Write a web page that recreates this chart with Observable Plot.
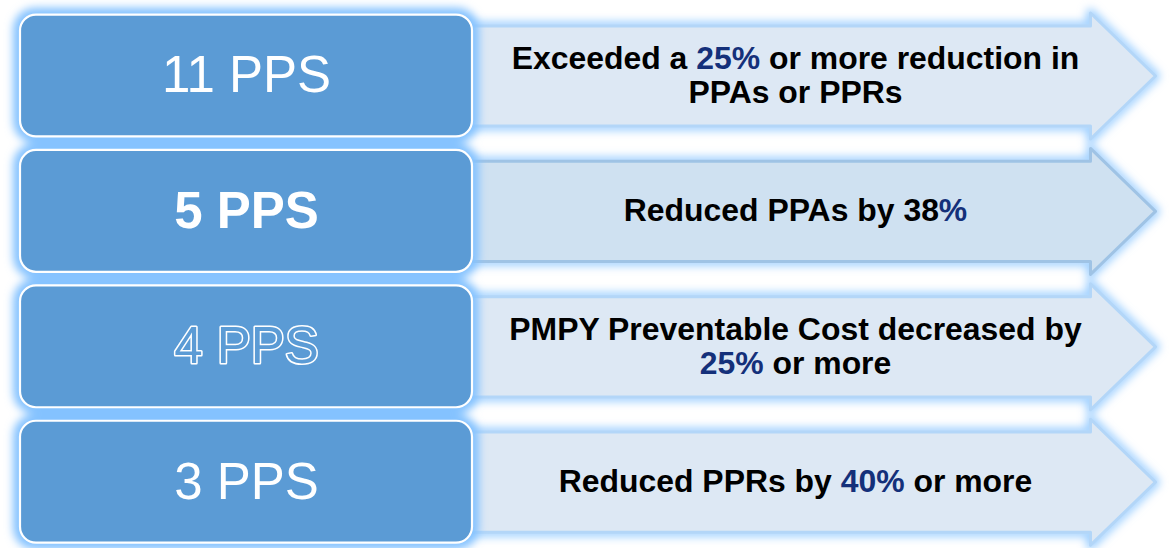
<!DOCTYPE html>
<html>
<head>
<meta charset="utf-8">
<script src="https://cdn.jsdelivr.net/npm/d3@7"></script>
<script src="https://cdn.jsdelivr.net/npm/@observablehq/plot@0.6"></script>
<style>
  html, body { margin: 0; padding: 0; background: #ffffff; }
  #chart svg { display: block; }
</style>
</head>
<body>
<div id="chart"></div>
<script>
// ---- data ----
const counts = [11, 5, 4, 3];
const unitLabel = "PPS";
const descriptions = [
  "Exceeded a 25% or more reduction in\nPPAs or PPRs",
  "Reduced PPAs by 38%",
  "PMPY Preventable Cost decreased by\n25% or more",
  "Reduced PPRs by 40% or more"
];
const highlights = ["25%", "%", "25%", "40%"];

// ---- styles (kept apart from data) ----
const labelStyles = ["regular", "bold", "outline", "regular"];
const arrowFills = ["#dde8f4", "#cfe1f1", "#dde8f4", "#dde8f4"];
const arrowStrokes = ["#b3d6f8", "#9fc3e5", "#b3d6f8", "#b3d6f8"];
const boxFill = "#5b9bd5";
const glowColor = "#84c2ff";
const arrowGlow = "#8ec8ff";
const navy = "#14307a";
const font = "'Liberation Sans', Arial, sans-serif";

// ---- layout ----
const W = 1170, H = 548;
const rowTop = 75.5, rowStep = 135.4;
const boxX1 = 20, boxX2 = 472, boxHalf = 0.45;
const shaftX1 = 460, headX = 1090, tipX = 1155;
const shaftHalf = 0.37, headHalf = 0.465;
const descX = 795, labelX = (boxX1 + boxX2) / 2;
const descStretch = 1.03;

const rows = counts.map((c, i) => ({
  i,
  label: `${c} ${unitLabel}`,
  desc: descriptions[i],
  hl: highlights[i],
  style: labelStyles[i]
}));

const shape = [
  [shaftX1, -shaftHalf], [headX, -shaftHalf], [headX, -headHalf], [tipX, 0],
  [headX, headHalf], [headX, shaftHalf], [shaftX1, shaftHalf]
];
const arrowPts = rows.flatMap(r => shape.map(([x, dy]) => ({row: r.i, x, y: r.i + dy})));

const plot = Plot.plot({
  width: W,
  height: H,
  margin: 0,
  x: {domain: [0, W], range: [0, W], axis: null},
  y: {domain: [-rowTop / rowStep, (H - rowTop) / rowStep], range: [0, H], axis: null},
  color: {type: "identity"},
  style: {background: "transparent", overflow: "visible"},
  marks: [
    // arrow glow
    Plot.line(arrowPts, {
      x: "x", y: "y", z: "row", curve: "linear-closed",
      fill: "none", stroke: arrowGlow, strokeWidth: 9, strokeOpacity: 0.85
    }),
    // arrows
    Plot.line(arrowPts, {
      x: "x", y: "y", z: "row", curve: "linear-closed",
      fill: d => arrowFills[d.row], stroke: d => arrowStrokes[d.row], strokeWidth: 3
    }),
    // box glow
    Plot.rect(rows, {
      x1: () => boxX1 - 7, x2: () => boxX2 + 7,
      y1: d => d.i - boxHalf - 0.05, y2: d => d.i + boxHalf + 0.05,
      fill: glowColor, rx: 22
    }),
    // boxes
    Plot.rect(rows, {
      x1: () => boxX1, x2: () => boxX2,
      y1: d => d.i - boxHalf, y2: d => d.i + boxHalf,
      fill: boxFill, stroke: "#ffffff", strokeWidth: 2.2, rx: 16
    }),
    // count labels
    Plot.text(rows.filter(d => d.style === "regular"), {
      x: () => labelX, y: "i", text: "label", fill: "#ffffff",
      fontSize: 51, fontFamily: font, lineAnchor: "middle", dy: 0
    }),
    Plot.text(rows.filter(d => d.style === "bold"), {
      x: () => labelX, y: "i", text: "label", fill: "#ffffff",
      fontSize: 51, fontWeight: "bold", fontFamily: font, lineAnchor: "middle", dy: 0
    }),
    Plot.text(rows.filter(d => d.style === "outline"), {
      x: () => labelX, y: "i", text: "label", fill: boxFill, stroke: "#ffffff", strokeWidth: 3,
      fontSize: 51, fontFamily: font, lineAnchor: "middle", dy: 0
    }),
    // descriptions
    Plot.text(rows, {
      x: () => descX, y: "i", text: "desc", fill: "#000000",
      fontSize: 31, fontWeight: "bold", fontFamily: font,
      lineAnchor: "middle", lineHeight: 1.1, dy: -1
    })
  ]
});

document.getElementById("chart").appendChild(plot);

// ---- post-processing: glow filter, highlights, horizontal stretch ----
const svgEl = plot.tagName.toLowerCase() === "svg" ? plot : plot.querySelector("svg");
const svg = d3.select(svgEl);
const groups = Array.from(svgEl.children).filter(n => n.tagName.toLowerCase() === "g");
const defs = svg.insert("defs", ":first-child");
defs.append("filter").attr("id", "glowBlur")
  .attr("x", "-10%").attr("y", "-10%").attr("width", "120%").attr("height", "120%")
  .append("feGaussianBlur").attr("stdDeviation", 4.5);
if (groups[0]) groups[0].setAttribute("filter", "url(#glowBlur)");
if (groups[2]) groups[2].setAttribute("filter", "url(#glowBlur)");

const SVGNS = "http://www.w3.org/2000/svg";
const descGroup = groups[groups.length - 1];
Array.from(descGroup.querySelectorAll(":scope > text")).forEach((el, k) => {
  const token = rows[k].hl;
  const tsp = Array.from(el.querySelectorAll("tspan"));
  const parts = tsp.length ? tsp : [el];
  let done = false;
  for (const node of parts) {
    if (done) break;
    const s = node.textContent;
    const idx = s.lastIndexOf(token);
    if (idx < 0) continue;
    while (node.firstChild) node.removeChild(node.firstChild);
    node.appendChild(document.createTextNode(s.slice(0, idx)));
    const t = document.createElementNS(SVGNS, "tspan");
    t.setAttribute("fill", navy);
    t.textContent = token;
    node.appendChild(t);
    node.appendChild(document.createTextNode(s.slice(idx + token.length)));
    done = true;
  }
  const tr = el.getAttribute("transform");
  if (tr) {
    el.setAttribute("transform", tr + ` scale(${descStretch},1)`);
  } else {
    const x = el.getAttribute("x") || 0, y = el.getAttribute("y") || 0;
    el.removeAttribute("x"); el.removeAttribute("y");
    el.setAttribute("transform", `translate(${x},${y}) scale(${descStretch},1)`);
  }
});
</script>
</body>
</html>
